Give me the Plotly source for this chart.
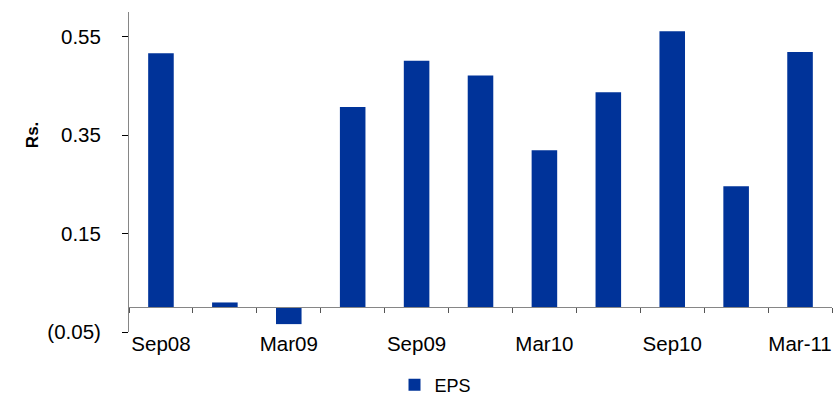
import plotly.graph_objects as go

# Quarterly EPS (Rs.)
quarters = ["Sep08", "Dec08", "Mar09", "Jun09", "Sep09", "Dec09",
            "Mar10", "Jun10", "Sep10", "Dec10", "Mar-11"]
eps = [0.516, 0.010, -0.034, 0.407, 0.501, 0.471,
       0.319, 0.437, 0.561, 0.246, 0.519]

label_quarters = ["Sep08", "Mar09", "Sep09", "Mar10", "Sep10", "Mar-11"]
y_ticks = [0.55, 0.35, 0.15, -0.05]
y_tick_text = ["0.55", "0.35", "0.15", "(0.05)"]
y_min, y_max = -0.05, 0.6

BAR_COLOR = "#003399"
FONT = "Liberation Sans, Arial, sans-serif"
TICK_SIZE = 20.5

fig = go.Figure()
fig.add_trace(go.Bar(
    x=quarters, y=eps, name="EPS",
    marker=dict(color=BAR_COLOR, line=dict(width=0)),
    xaxis="x", yaxis="y",
))
# helper trace so the zero-crossing category axis is drawn
fig.add_trace(go.Scatter(
    x=quarters, y=[None] * len(quarters), mode="none",
    xaxis="x2", yaxis="y", showlegend=False, hoverinfo="skip",
))

zero_pos = (0 - y_min) / (y_max - y_min)

fig.update_layout(
    width=833, height=397,
    margin=dict(l=129, r=1, t=12, b=65),
    paper_bgcolor="white", plot_bgcolor="white",
    font=dict(family=FONT, size=16, color="#000000"),
    bargap=0.6,
    showlegend=True,
    legend=dict(orientation="h", x=0.436, xanchor="center",
                yref="container", y=0.03, yanchor="middle",
                borderwidth=0, bgcolor="rgba(0,0,0,0)",
                font=dict(family=FONT, size=18, color="#000000")),
    xaxis=dict(
        type="category", categoryorder="array", categoryarray=quarters,
        range=[-0.5, len(quarters) - 0.5],
        tickmode="array", tickvals=label_quarters, ticktext=label_quarters,
        showline=False, ticks="", showgrid=False, zeroline=False,
        automargin=False, ticklabelstandoff=-3,
        tickfont=dict(family=FONT, size=TICK_SIZE, color="#000000"),
    ),
    xaxis2=dict(
        type="category", categoryorder="array", categoryarray=quarters,
        matches="x", overlaying="x", anchor="free", position=zero_pos,
        showline=True, linecolor="#868686", linewidth=1,
        ticks="outside", tickson="boundaries", ticklen=5,
        tickcolor="#555555", tickwidth=1,
        showticklabels=False, showgrid=False, zeroline=False,
    ),
    yaxis=dict(
        range=[y_min, y_max],
        tickmode="array", tickvals=y_ticks, ticktext=y_tick_text,
        showline=True, linecolor="#868686", linewidth=1,
        ticks="outside", ticklen=6, tickcolor="#000000", tickwidth=1,
        ticklabelstandoff=17,
        showgrid=False, zeroline=False, automargin=False,
        tickfont=dict(family=FONT, size=TICK_SIZE, color="#000000"),
    ),
    annotations=[dict(
        text="<b>Rs.</b>", textangle=-90,
        xref="paper", yref="paper", x=-0.1378, y=0.6156,
        xanchor="center", yanchor="middle", showarrow=False,
        font=dict(family=FONT, size=17, color="#000000"),
    )],
)

fig.write_html("out.html")
